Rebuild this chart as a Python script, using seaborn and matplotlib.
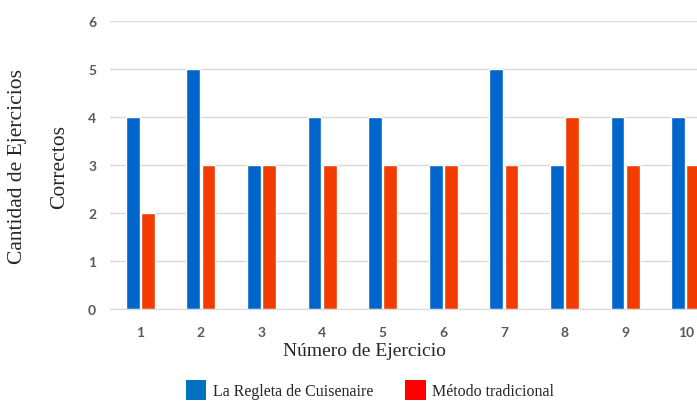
import matplotlib
matplotlib.use("Agg")
import matplotlib.pyplot as plt
from matplotlib.patches import Patch
import seaborn as sns
import pandas as pd

ejercicios = ["1", "2", "3", "4", "5", "6", "7", "8", "9", "10"]
regleta = [4, 5, 3, 4, 4, 3, 5, 3, 4, 4]
tradicional = [2, 3, 3, 3, 3, 3, 3, 4, 3, 3]
serie_a = "La Regleta de Cuisenaire"
serie_b = "Método tradicional"
y_ticks = [0, 1, 2, 3, 4, 5, 6]

df = pd.DataFrame({
    "Ejercicio": ejercicios * 2,
    "Valor": regleta + tradicional,
    "Serie": [serie_a] * len(ejercicios) + [serie_b] * len(ejercicios),
})

sns.set_style("white")
fig = plt.figure(figsize=(6.97, 4.02), dpi=100)
ax = fig.add_axes([110 / 697, 92 / 402, 606 / 697, 288 / 402])

palette = {serie_a: "#0066CC", serie_b: "#F23C00"}
sns.barplot(data=df, x="Ejercicio", y="Valor", hue="Serie", palette=palette,
            width=0.5, gap=0.08, ax=ax, legend=False, saturation=1)

ax.set_ylim(0, 6)
ax.set_yticks(y_ticks)
ax.yaxis.grid(True, color="#D9D9D9", linewidth=1)
ax.set_axisbelow(True)
for s in ["top", "right", "left"]:
    ax.spines[s].set_visible(False)
ax.spines["bottom"].set_color("#D9D9D9")
ax.tick_params(axis="both", length=0, labelsize=10, labelcolor="#595959")
ax.tick_params(axis="x", pad=12)
ax.tick_params(axis="y", pad=10)
for lab in ax.get_xticklabels() + ax.get_yticklabels():
    lab.set_fontfamily("Lato")
    lab.set_fontweight("bold")
ax.set_xlabel("")
ax.set_ylabel("")

serif = "Liberation Serif"
fig.text(364 / 697, 1 - 352 / 402, "Número de Ejercicio", ha="center", va="center",
         fontsize=14, family=serif)
fig.text(18 / 697, 1 - 167 / 402, "Cantidad de Ejercicios", rotation=90,
         ha="center", va="center", fontsize=15.5, family=serif)
fig.text(60 / 697, 1 - 167 / 402, "Correctos", rotation=90,
         ha="center", va="center", fontsize=15.5, family=serif)

handles = [Patch(facecolor="#0070C0", edgecolor="none"),
           Patch(facecolor="#FF0000", edgecolor="none")]
fig.legend(handles, [serie_a, serie_b], loc="center", ncol=2,
           bbox_to_anchor=(370 / 697, 1 - 391 / 402), frameon=False,
           prop={"family": serif, "size": 11.5}, handlelength=1.3,
           handleheight=1.5, handletextpad=0.4, columnspacing=2.0,
           borderpad=0)

fig.savefig("out.png", dpi=100)
